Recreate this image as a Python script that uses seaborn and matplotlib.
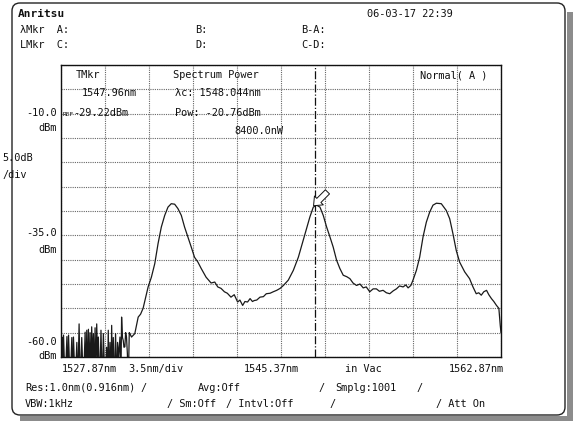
import numpy as np
import pandas as pd
import matplotlib
matplotlib.use("Agg")
import matplotlib.pyplot as plt
import seaborn as sns
from matplotlib.patches import FancyBboxPatch, Rectangle

# wavelength sweep (nm) and level (dBm); values under -60 are below screen
wavelength = [
    1527.90, 1527.94, 1528.01, 1528.07, 1528.20, 1528.34, 1528.40, 1528.47, 1528.60, 1528.73,
    1528.80, 1528.86, 1529.00, 1529.13, 1529.20, 1529.31, 1529.40, 1529.52, 1529.65, 1529.79,
    1529.85, 1529.92, 1529.98, 1530.05, 1530.12, 1530.18, 1530.25, 1530.31, 1530.38, 1530.45,
    1530.52, 1530.58, 1530.64, 1530.71, 1530.78, 1530.84, 1530.95, 1531.05, 1531.15, 1531.24,
    1531.37, 1531.50, 1531.56, 1531.63, 1531.70, 1531.77, 1531.84, 1531.90, 1531.97, 1532.03,
    1532.12, 1532.21, 1532.30, 1532.37, 1532.45, 1532.56, 1532.63, 1532.69, 1532.76, 1532.82,
    1532.88, 1532.95, 1533.01, 1533.08, 1533.15, 1533.22, 1533.30, 1533.35,
    1533.48, 1533.74, 1534.01, 1534.20, 1534.40, 1534.80, 1535.06, 1535.33, 1535.59, 1535.85,
    1536.12, 1536.38, 1536.64, 1536.91, 1537.17, 1537.44, 1537.70, 1537.96, 1538.23, 1538.49,
    1538.76, 1539.02, 1539.41, 1539.81, 1540.10, 1540.34, 1540.60, 1540.87, 1541.10, 1541.39,
    1541.65, 1541.92, 1542.10, 1542.32, 1542.50, 1542.71, 1542.91, 1543.10, 1543.24, 1543.44,
    1543.70, 1543.97, 1544.20, 1544.50, 1544.75, 1545.03, 1545.30, 1545.56, 1545.95, 1546.35,
    1546.75, 1547.14, 1547.41, 1547.67, 1547.94, 1548.20, 1548.47, 1548.73, 1549.00, 1549.26,
    1549.52, 1549.79, 1550.05, 1550.32, 1550.60, 1550.85, 1551.10, 1551.38, 1551.65, 1551.91,
    1552.15, 1552.43, 1552.70, 1552.96, 1553.20, 1553.49, 1553.75, 1554.02, 1554.30, 1554.55,
    1554.80, 1555.08, 1555.30, 1555.48, 1555.70, 1555.87, 1556.14, 1556.40, 1556.67, 1556.93,
    1557.20, 1557.46, 1557.73, 1558.12, 1558.52, 1558.79, 1559.05, 1559.31, 1559.58, 1559.98,
    1560.20, 1560.37, 1560.64, 1560.90, 1561.10, 1561.30, 1561.50, 1561.72, 1561.90, 1562.11,
    1562.30, 1562.51, 1562.70, 1562.81, 1562.87,
]
level = [
    -58.0, -55.9, -66.0, -55.5, -66.0, -55.8, -66.0, -55.5, -66.0, -56.0,
    -66.0, -55.9, -66.0, -57.0, -66.0, -53.2, -66.0, -56.0, -66.0, -54.9,
    -66.0, -54.5, -66.0, -54.3, -66.0, -55.0, -66.0, -53.8, -60.0, -55.2,
    -66.0, -54.0, -66.0, -53.2, -60.0, -55.9, -66.0, -54.5, -66.0, -55.2,
    -66.0, -58.0, -66.0, -54.5, -66.0, -57.0, -66.0, -53.5, -66.0, -56.0,
    -66.0, -55.2, -66.0, -57.0, -60.0, -55.9, -66.0, -51.8, -56.0, -56.6,
    -58.0, -57.9, -55.0, -55.9, -59.3, -66.0, -55.0, -55.2,
    -55.9, -55.2, -51.8, -51.2, -50.0, -45.6, -43.6, -40.8, -36.7, -33.3,
    -30.9, -29.2, -28.5, -28.6, -29.5, -30.9, -33.3, -35.3, -37.4, -39.5,
    -40.5, -41.8, -43.6, -44.8, -44.6, -45.6, -45.9, -46.6, -46.9, -47.7,
    -47.2, -48.7, -48.3, -49.4, -48.6, -48.7, -48.0, -48.6, -48.4, -48.3,
    -47.7, -47.6, -47.0, -46.9, -46.6, -46.3, -45.9, -45.3, -44.2, -42.2,
    -39.5, -36.0, -33.6, -31.2, -29.2, -28.8, -29.2, -30.9, -33.3, -35.3,
    -37.4, -40.1, -41.8, -43.2, -43.5, -43.9, -44.8, -45.3, -45.0, -45.8,
    -45.6, -46.6, -46.0, -46.0, -46.5, -46.3, -46.8, -47.0, -46.4, -46.0,
    -45.4, -45.6, -45.2, -45.8, -45.3, -44.2, -42.2, -39.5, -35.3, -32.3,
    -30.2, -28.8, -28.4, -28.5, -29.9, -31.6, -34.7, -38.1, -40.5, -42.5,
    -43.3, -43.9, -45.6, -47.0, -46.8, -47.3, -46.6, -46.3, -47.2, -48.0,
    -48.6, -49.4, -50.0, -53.5, -55.0,
]

x_start, x_stop = 1527.87, 1562.87
ref_level, db_per_div = 0.0, 5.0
tmkr_wl, tmkr_lvl = 1547.96, -29.22
center_wl = 1548.044

W, H = 574, 421
FONT = "DejaVu Sans Mono"
FS = 7.4


def put(bg, x, y, s, ha="left", size=FS, **kw):
    bg.text(x, y, s, ha=ha, va="center", fontsize=size, family=FONT, color="#111111", **kw)


def draw_screen(fig):
    bg = fig.add_axes([0, 0, 1, 1], zorder=0)
    bg.set_xlim(0, W)
    bg.set_ylim(H, 0)
    bg.axis("off")

    # shadow + rounded frame
    bg.add_patch(Rectangle((567, 12), 6, 409, color="#8c8c8c", lw=0))
    bg.add_patch(Rectangle((20, 416), 553, 5, color="#8c8c8c", lw=0))
    bg.add_patch(FancyBboxPatch((15, 6), 547, 406, boxstyle="round,pad=3,rounding_size=8",
                                fc="white", ec="#222222", lw=1.0))

    put(bg, 18, 14, "Anritsu", weight="bold", size=8)
    put(bg, 367, 14, "06-03-17 22:39")
    put(bg, 20, 30, "λMkr  A:")
    put(bg, 195, 30, "B:")
    put(bg, 301, 30, "B-A:")
    put(bg, 20, 45, "LMkr  C:")
    put(bg, 195, 45, "D:")
    put(bg, 301, 45, "C-D:")

    # level scale
    put(bg, 57, 113, "-10.0", ha="right")
    put(bg, 57, 128, "dBm", ha="right")
    put(bg, 2, 158, "5.0dB")
    put(bg, 2, 175, "/div")
    put(bg, 57, 233, "-35.0", ha="right")
    put(bg, 57, 250, "dBm", ha="right")
    put(bg, 57, 342, "-60.0", ha="right")
    put(bg, 57, 356, "dBm", ha="right")

    # wavelength scale
    put(bg, 62, 369, "1527.87nm")
    put(bg, 128, 369, "3.5nm/div")
    put(bg, 244, 369, "1545.37nm")
    put(bg, 345, 369, "in Vac")
    put(bg, 504, 369, "1562.87nm", ha="right")

    # settings
    put(bg, 25, 388, "Res:1.0nm(0.916nm)")
    put(bg, 140, 388, "/")
    put(bg, 198, 388, "Avg:Off")
    put(bg, 318, 388, "/")
    put(bg, 335, 388, "Smplg:1001")
    put(bg, 416, 388, "/")
    put(bg, 25, 404, "VBW:1kHz")
    put(bg, 167, 404, "/ Sm:Off")
    put(bg, 226, 404, "/ Intvl:Off")
    put(bg, 329, 404, "/")
    put(bg, 436, 404, "/ Att On")
    return bg


def draw_trace(fig):
    ax = fig.add_axes([61 / W, 1 - 357 / H, 440 / W, 292 / H], zorder=2)
    ax.set_facecolor("none")
    df = pd.DataFrame({"wl": wavelength, "dbm": level})
    sns.lineplot(data=df, x="wl", y="dbm", ax=ax, color="#1a1a1a", lw=0.9,
                 sort=False, estimator=None)

    ax.set_xlim(x_start, x_stop)
    ax.set_ylim(ref_level - 12 * db_per_div, ref_level)
    ax.set_xticks(np.linspace(x_start, x_stop, 11))
    ax.set_yticks(np.arange(-60, 1, db_per_div))
    ax.grid(True, color="#666666", ls=(0, (1, 1)), lw=0.8)
    ax.tick_params(length=0, labelbottom=False, labelleft=False)
    ax.set_xlabel("")
    ax.set_ylabel("")
    for sp in ax.spines.values():
        sp.set_visible(True)
        sp.set_color("#111111")
        sp.set_linewidth(1.0)

    # centre wavelength marker
    ax.axvline(center_wl, color="#111111", lw=0.9, ls="-.")
    # trace marker arrow (hollow)
    ax.annotate("", xy=(tmkr_wl, tmkr_lvl + 0.3), xytext=(10, 10), textcoords="offset points",
                arrowprops=dict(arrowstyle="simple,head_length=0.45,head_width=0.75,tail_width=0.35",
                                mutation_scale=12, fc="white", ec="#111111", lw=0.7,
                                shrinkA=0, shrinkB=0))
    return ax


def main():
    sns.set_style("white")
    fig = plt.figure(figsize=(W / 100, H / 100), dpi=100)
    fig.patch.set_facecolor("white")
    draw_screen(fig)
    draw_trace(fig)

    # in-graph readouts
    top = fig.add_axes([0, 0, 1, 1], zorder=3)
    top.set_xlim(0, W)
    top.set_ylim(H, 0)
    top.axis("off")
    put(top, 76, 75, "TMkr")
    put(top, 82, 93, "1547.96nm")
    put(top, 63, 114, "REF", size=4.5)
    put(top, 73, 113, "-29.22dBm")
    put(top, 173, 75, "Spectrum Power")
    put(top, 175, 93, "λc: 1548.044nm")
    put(top, 175, 113, "Pow: -20.76dBm")
    put(top, 283, 131, "8400.0nW", ha="right")
    put(top, 420, 75, "Normal( A )")

    fig.savefig("out.png", dpi=100)


if __name__ == "__main__":
    main()
